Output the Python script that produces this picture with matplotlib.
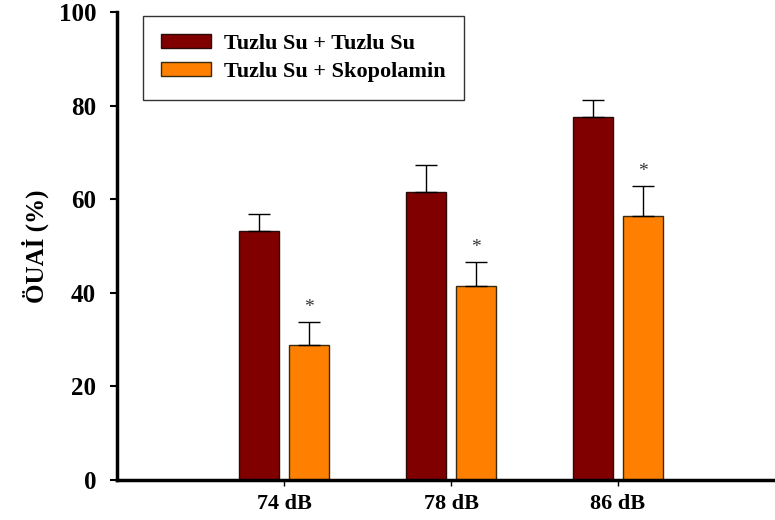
import matplotlib
matplotlib.use("Agg")
import matplotlib.pyplot as plt
import numpy as np

categories = ["74 dB", "78 dB", "86 dB"]
series_names = ["Tuzlu Su + Tuzlu Su", "Tuzlu Su + Skopolamin"]
saline_means = [53.2, 61.5, 77.6]
saline_err = [3.6, 5.8, 3.6]
scop_means = [28.8, 41.5, 56.4]
scop_err = [5.0, 5.1, 6.4]
y_ticks = [0, 20, 40, 60, 80, 100]

plt.rcParams['font.family'] = ['Liberation Serif', 'DejaVu Serif']
plt.rcParams['font.weight'] = 'bold'

fig = plt.figure(figsize=(7.75, 5.2), dpi=100)
ax = fig.add_axes([0.151, 0.077, 0.849, 0.9])

x = np.arange(1, len(categories) + 1)
w = 0.235
off = 0.15

ax.bar(x - off, saline_means, w, color='#800000', edgecolor='#2a0a0a', linewidth=1.0,
       label=series_names[0], zorder=2)
ax.bar(x + off, scop_means, w, color='#ff8000', edgecolor='#3a2a10', linewidth=1.0,
       label=series_names[1], zorder=2)

# upper-only error bars
ax.errorbar(x - off, saline_means, yerr=[np.zeros(3), saline_err], fmt='none',
            ecolor='black', elinewidth=1.0, capsize=8, capthick=1.0, zorder=3)
ax.errorbar(x + off, scop_means, yerr=[np.zeros(3), scop_err], fmt='none',
            ecolor='black', elinewidth=1.0, capsize=8, capthick=1.0, zorder=3)

for xi, m, e in zip(x + off, scop_means, scop_err):
    ax.text(xi, m + e + 1.2, "*", ha='center', va='bottom', fontsize=14,
            fontweight='normal', color='#333333')

ax.set_xlim(0, 3.94)
ax.set_ylim(0, 100)
ax.set_xticks(x)
ax.set_xticklabels(categories, fontsize=16, fontweight='bold')
ax.set_yticks(y_ticks)
ax.set_yticklabels([str(t) for t in y_ticks], fontsize=18, fontweight='bold')
ax.set_ylabel("ÖUAİ (%)", fontsize=18, fontweight='bold', labelpad=7)

for s in ['top', 'right']:
    ax.spines[s].set_visible(False)
for s in ['left', 'bottom']:
    ax.spines[s].set_linewidth(2.5)
ax.tick_params(axis='y', direction='out', length=5, width=1.5, pad=10)
ax.tick_params(axis='x', direction='out', length=4, width=1.0, pad=6)

leg = ax.legend(loc='upper left', bbox_to_anchor=(0.0395, 0.991), frameon=True, fancybox=False,
                edgecolor='black', prop={'weight': 'bold', 'size': 16},
                handlelength=2.25, handleheight=0.63, borderpad=0.8, labelspacing=0.35,
                handletextpad=0.6, borderaxespad=0)
leg.get_frame().set_linewidth(1.0)

fig.savefig("out.png", dpi=100)
